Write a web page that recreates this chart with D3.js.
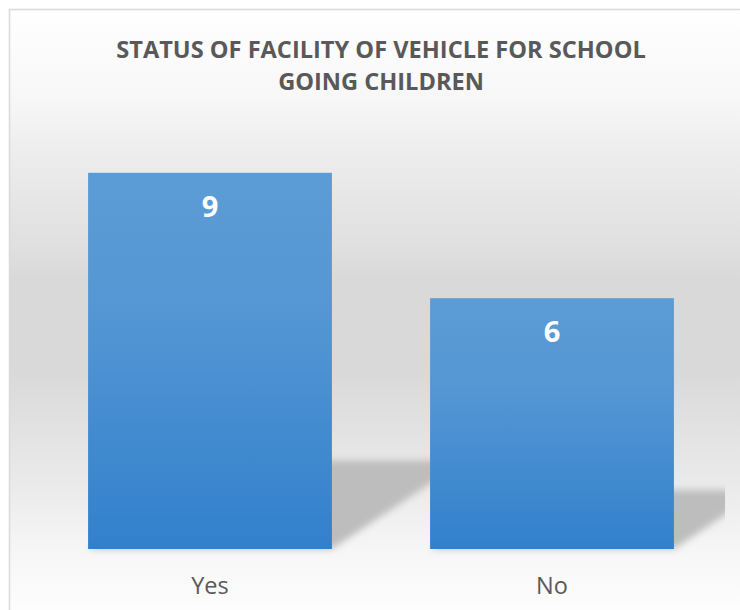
<!DOCTYPE html>
<html>
<head>
<meta charset="utf-8">
<script src="https://cdn.jsdelivr.net/npm/d3@7"></script>
<style>
  body { margin: 0; background: #ffffff; }
  svg { display: block; }
</style>
</head>
<body>
<script>
const WIDTH = 740
const HEIGHT = 610

// données
const categories = ["Yes", "No"]
const values = [9, 6]
const titleLines = ["STATUS OF FACILITY OF VEHICLE FOR SCHOOL", "GOING CHILDREN"]

const svg = d3.select("body").append("svg")
    .attr("width", WIDTH)
    .attr("height", HEIGHT)

const defs = svg.append("defs")

// fond du graphique
const bg = defs.append("linearGradient")
    .attr("id", "bgGrad")
    .attr("gradientUnits", "userSpaceOnUse")
    .attr("x1", 0).attr("y1", 9).attr("x2", 0).attr("y2", 610)
const bgStops = [[0, "#ffffff"], [0.15, "#f7f7f7"], [0.25, "#ececec"], [0.39, "#e0e0e0"],
    [0.45, "#d9d9d9"], [0.6, "#d9d9d9"], [0.71, "#e3e3e3"], [0.8, "#ebebeb"],
    [0.9, "#f6f6f6"], [1, "#fdfdfd"]]
bg.selectAll("stop").data(bgStops).enter().append("stop")
    .attr("offset", d => d[0])
    .attr("stop-color", d => d[1])

// dégradé des barres
const barGrad = defs.append("linearGradient")
    .attr("id", "barGrad")
    .attr("x1", 0).attr("y1", 0).attr("x2", 0).attr("y2", 1)
barGrad.append("stop").attr("offset", 0).attr("stop-color", "#5c9cd6")
barGrad.append("stop").attr("offset", 0.35).attr("stop-color", "#5597d4")
barGrad.append("stop").attr("offset", 1).attr("stop-color", "#3280cc")

defs.append("filter")
    .attr("id", "blur")
    .attr("x", "-20%").attr("y", "-20%").attr("width", "140%").attr("height", "140%")
    .append("feGaussianBlur")
    .attr("stdDeviation", 3.5)

defs.append("clipPath").attr("id", "plotClip")
    .append("rect")
    .attr("x", 0).attr("y", 0).attr("width", 725).attr("height", HEIGHT)

svg.append("rect")
    .attr("x", 9.5).attr("y", 9.5)
    .attr("width", 760).attr("height", 640)
    .attr("fill", "url(#bgGrad)")
    .attr("stroke", "#d9d9d9")
    .attr("stroke-width", 1.5)

// échelles
const x = d3.scaleBand()
    .domain(categories)
    .range([39, 723])
    .paddingInner(0.287)
    .paddingOuter(0.1435)

const y = d3.scaleLinear()
    .domain([0, 10])
    .range([549, 131])

// ombres
const k = 1.5
const shadows = svg.append("g").attr("clip-path", "url(#plotClip)")

// Titre
svg.append("g").selectAll("text")
    .data(titleLines)
    .enter().append("text")
    .attr("x", 381)
    .attr("y", (d, i) => 58 + i * 32)
    .attr("text-anchor", "middle")
    .attr("font-family", "'Open Sans', sans-serif")
    .attr("font-weight", "bold")
    .attr("font-size", 23.6)
    .attr("fill", "#595959")
    .text(d => d)

const bars = svg.append("g")

categories.forEach((c, i) => {
    const x0 = x(c)
    const x1 = x(c) + x.bandwidth()
    const h = (y(0) - y(values[i])) * 0.235
    shadows.append("polygon")
        .attr("points", [[x0, y(0)], [x1, y(0)], [x1 + k * h, y(0) - h], [x0 + k * h, y(0) - h]].join(" "))
        .attr("fill", "#bdbdbd")
        .attr("filter", "url(#blur)")
})

bars.selectAll("rect")
    .data(values)
    .enter()
    .append("rect")
    .attr("x", (d, i) => x(categories[i]))
    .attr("y", d => y(d))
    .attr("width", x.bandwidth())
    .attr("height", d => y(0) - y(d))
    .attr("fill", "url(#barGrad)")

// étiquettes de valeur
bars.selectAll("text")
    .data(values)
    .enter()
    .append("text")
    .attr("x", (d, i) => x(categories[i]) + x.bandwidth() / 2)
    .attr("y", d => y(d) + 44)
    .attr("text-anchor", "middle")
    .attr("font-family", "'Open Sans', sans-serif")
    .attr("font-weight", "bold")
    .attr("font-size", 29)
    .attr("fill", "#ffffff")
    .text(d => d)

// axe des catégories
const xAxis = svg.append("g")
    .attr("transform", "translate(0," + y(0) + ")")
    .call(d3.axisBottom(x).tickSize(0).tickPadding(27))
xAxis.select(".domain").remove()
xAxis.selectAll("text")
    .attr("font-family", "'Open Sans', sans-serif")
    .attr("font-size", 23.5)
    .attr("fill", "#595959")
    .attr("dy", "0.75em")
</script>
</body>
</html>
